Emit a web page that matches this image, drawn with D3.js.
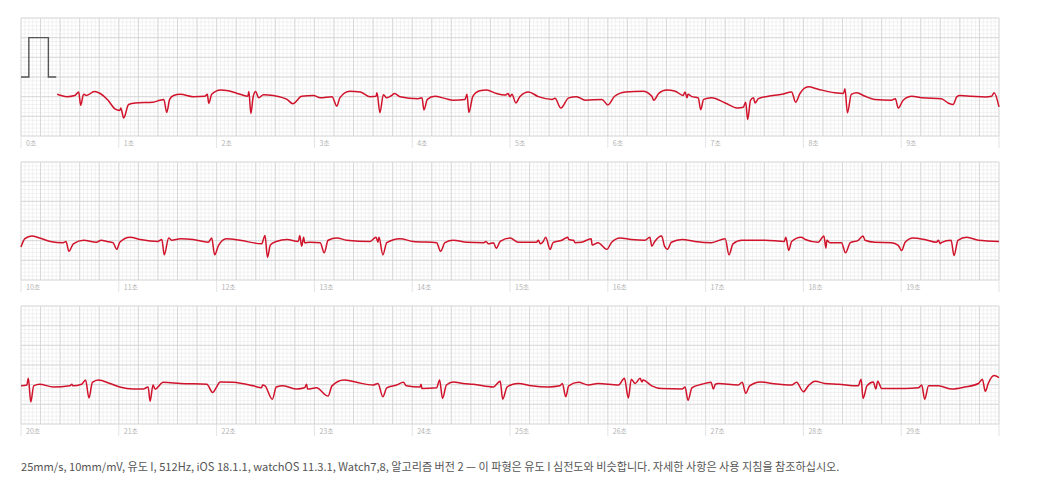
<!DOCTYPE html>
<html>
<head>
<meta charset="utf-8">
<script src="https://cdn.jsdelivr.net/npm/d3@7"></script>
<style>
  body { margin: 0; background: #fff; }
  svg { display: block; }
</style>
</head>
<body>
<div id="chart"></div>
<script>
const width = 1040, height = 481;

// ECG lead I, 25mm/s, 10mm/mV -- [seconds, mV]
const strip1 = [[0.37,-0.44],[0.47,-0.50],[0.55,-0.47],[0.59,-0.38],[0.61,-0.72],[0.64,-0.44],[0.67,-0.47],[0.75,-0.37],[0.81,-0.42],[0.89,-0.59],[0.96,-0.81],[1.01,-0.85],[1.02,-0.79],[1.05,-1.04],[1.10,-0.70],[1.17,-0.66],[1.35,-0.64],[1.42,-0.59],[1.46,-0.57],[1.49,-0.90],[1.52,-0.57],[1.56,-0.47],[1.63,-0.44],[1.76,-0.50],[1.88,-0.49],[1.905,-0.44],[1.92,-0.67],[1.95,-0.44],[2.04,-0.33],[2.12,-0.35],[2.24,-0.44],[2.32,-0.49],[2.33,-0.37],[2.35,-0.93],[2.375,-0.49],[2.40,-0.37],[2.43,-0.53],[2.48,-0.45],[2.58,-0.47],[2.72,-0.57],[2.78,-0.68],[2.87,-0.49],[2.99,-0.47],[3.06,-0.53],[3.18,-0.50],[3.23,-0.74],[3.26,-0.53],[3.36,-0.36],[3.47,-0.38],[3.57,-0.50],[3.63,-0.49],[3.64,-0.40],[3.67,-0.91],[3.705,-0.45],[3.74,-0.53],[3.79,-0.47],[3.82,-0.42],[3.875,-0.50],[4.06,-0.55],[4.10,-0.53],[4.12,-0.84],[4.155,-0.57],[4.23,-0.49],[4.34,-0.55],[4.42,-0.59],[4.54,-0.57],[4.56,-0.44],[4.58,-0.90],[4.62,-0.49],[4.69,-0.35],[4.76,-0.33],[4.86,-0.42],[4.95,-0.46],[4.98,-0.42],[5.00,-0.50],[5.02,-0.44],[5.06,-0.66],[5.10,-0.50],[5.19,-0.38],[5.29,-0.50],[5.43,-0.57],[5.46,-0.54],[5.52,-0.79],[5.60,-0.53],[5.68,-0.50],[5.77,-0.59],[5.94,-0.57],[6.00,-0.71],[6.07,-0.49],[6.18,-0.38],[6.36,-0.36],[6.45,-0.49],[6.47,-0.59],[6.52,-0.42],[6.60,-0.33],[6.69,-0.36],[6.77,-0.47],[6.79,-0.38],[6.81,-0.53],[6.82,-0.44],[6.86,-0.50],[6.925,-0.53],[6.95,-0.83],[6.98,-0.57],[7.06,-0.53],[7.20,-0.66],[7.33,-0.79],[7.385,-0.77],[7.41,-0.64],[7.43,-1.08],[7.46,-0.59],[7.49,-0.53],[7.505,-0.66],[7.54,-0.55],[7.64,-0.49],[7.78,-0.44],[7.88,-0.38],[7.92,-0.64],[7.965,-0.42],[8.05,-0.25],[8.15,-0.31],[8.32,-0.40],[8.41,-0.42],[8.425,-0.30],[8.45,-0.91],[8.49,-0.44],[8.545,-0.40],[8.63,-0.49],[8.73,-0.57],[8.90,-0.59],[8.94,-0.55],[8.97,-0.79],[9.02,-0.59],[9.11,-0.49],[9.21,-0.53],[9.41,-0.55],[9.48,-0.66],[9.53,-0.70],[9.57,-0.50],[9.60,-0.47],[9.72,-0.49],[9.86,-0.51],[9.925,-0.49],[9.95,-0.40],[10.0,-0.76]];

const strip2 = [[10.0,-0.66],[10.04,-0.45],[10.11,-0.38],[10.19,-0.43],[10.30,-0.52],[10.43,-0.55],[10.46,-0.52],[10.49,-0.77],[10.535,-0.58],[10.64,-0.49],[10.77,-0.54],[10.82,-0.49],[10.88,-0.52],[10.94,-0.55],[10.98,-0.72],[11.01,-0.54],[11.115,-0.41],[11.22,-0.47],[11.40,-0.52],[11.44,-0.47],[11.465,-0.86],[11.51,-0.43],[11.54,-0.49],[11.63,-0.45],[11.76,-0.47],[11.915,-0.54],[11.95,-0.43],[11.98,-0.86],[12.02,-0.62],[12.10,-0.45],[12.24,-0.49],[12.46,-0.58],[12.495,-0.37],[12.52,-0.92],[12.55,-0.61],[12.61,-0.52],[12.72,-0.47],[12.835,-0.52],[12.85,-0.37],[12.87,-0.64],[12.89,-0.41],[12.90,-0.55],[12.955,-0.54],[13.06,-0.55],[13.10,-0.81],[13.14,-0.49],[13.23,-0.43],[13.33,-0.49],[13.57,-0.52],[13.63,-0.41],[13.65,-0.54],[13.66,-0.41],[13.70,-0.86],[13.74,-0.55],[13.875,-0.45],[14.01,-0.52],[14.25,-0.55],[14.29,-0.77],[14.335,-0.55],[14.42,-0.49],[14.56,-0.54],[14.73,-0.55],[14.755,-0.52],[14.78,-0.58],[14.83,-0.55],[14.86,-0.69],[14.90,-0.52],[15.00,-0.43],[15.085,-0.54],[15.27,-0.54],[15.29,-0.49],[15.31,-0.58],[15.34,-0.52],[15.365,-0.41],[15.41,-0.72],[15.44,-0.55],[15.53,-0.49],[15.59,-0.41],[15.60,-0.47],[15.65,-0.49],[15.665,-0.55],[15.73,-0.54],[15.83,-0.45],[15.84,-0.61],[15.90,-0.55],[15.99,-0.72],[16.04,-0.54],[16.125,-0.43],[16.24,-0.47],[16.38,-0.49],[16.43,-0.41],[16.45,-0.64],[16.48,-0.52],[16.55,-0.38],[16.58,-0.64],[16.61,-0.72],[16.65,-0.54],[16.76,-0.47],[16.89,-0.52],[17.06,-0.55],[17.20,-0.45],[17.24,-0.86],[17.28,-0.58],[17.37,-0.49],[17.61,-0.49],[17.805,-0.52],[17.82,-0.41],[17.85,-0.75],[17.88,-0.52],[17.975,-0.41],[18.02,-0.47],[18.15,-0.54],[18.21,-0.38],[18.23,-0.69],[18.24,-0.49],[18.27,-0.55],[18.39,-0.55],[18.43,-0.81],[18.48,-0.55],[18.56,-0.49],[18.61,-0.38],[18.63,-0.49],[18.73,-0.54],[18.90,-0.55],[18.97,-0.62],[19.005,-0.75],[19.04,-0.54],[19.12,-0.43],[19.24,-0.47],[19.36,-0.54],[19.38,-0.49],[19.40,-0.58],[19.41,-0.55],[19.51,-0.49],[19.54,-0.88],[19.58,-0.49],[19.67,-0.41],[19.79,-0.49],[20.0,-0.52]];

const strip3 = [[20.0,-0.53],[20.06,-0.51],[20.075,-0.34],[20.10,-0.94],[20.13,-0.53],[20.19,-0.49],[20.33,-0.56],[20.50,-0.53],[20.52,-0.49],[20.53,-0.53],[20.62,-0.49],[20.66,-0.38],[20.695,-0.84],[20.73,-0.44],[20.79,-0.38],[20.91,-0.47],[21.01,-0.56],[21.15,-0.61],[21.25,-0.61],[21.30,-0.56],[21.32,-0.92],[21.35,-0.51],[21.37,-0.61],[21.455,-0.44],[21.63,-0.47],[21.90,-0.49],[21.96,-0.70],[22.00,-0.56],[22.035,-0.43],[22.17,-0.44],[22.375,-0.53],[22.46,-0.58],[22.47,-0.51],[22.495,-0.53],[22.57,-0.87],[22.61,-0.56],[22.68,-0.53],[22.82,-0.61],[22.90,-0.58],[22.92,-0.49],[22.93,-0.61],[23.02,-0.58],[23.14,-0.79],[23.18,-0.53],[23.30,-0.38],[23.43,-0.44],[23.60,-0.51],[23.65,-0.47],[23.70,-0.81],[23.74,-0.58],[23.84,-0.51],[23.91,-0.44],[23.94,-0.53],[24.08,-0.56],[24.09,-0.49],[24.10,-0.60],[24.25,-0.58],[24.28,-0.38],[24.31,-0.85],[24.35,-0.51],[24.42,-0.43],[24.52,-0.47],[24.625,-0.49],[24.83,-0.56],[24.90,-0.41],[24.925,-0.87],[24.97,-0.56],[25.03,-0.49],[25.085,-0.47],[25.22,-0.53],[25.39,-0.56],[25.51,-0.53],[25.535,-0.47],[25.57,-0.81],[25.60,-0.53],[25.70,-0.44],[25.80,-0.51],[25.90,-0.47],[26.11,-0.51],[26.17,-0.34],[26.21,-0.84],[26.24,-0.36],[26.28,-0.47],[26.33,-0.34],[26.35,-0.43],[26.36,-0.38],[26.45,-0.53],[26.55,-0.60],[26.76,-0.61],[26.79,-0.56],[26.82,-0.90],[26.86,-0.58],[26.96,-0.49],[27.055,-0.44],[27.08,-0.61],[27.10,-0.49],[27.13,-0.47],[27.33,-0.51],[27.375,-0.44],[27.41,-0.72],[27.45,-0.53],[27.56,-0.43],[27.68,-0.47],[27.88,-0.51],[27.93,-0.44],[28.00,-0.68],[28.05,-0.53],[28.12,-0.41],[28.22,-0.47],[28.36,-0.49],[28.56,-0.53],[28.59,-0.36],[28.61,-0.85],[28.65,-0.53],[28.715,-0.43],[28.74,-0.61],[28.76,-0.41],[28.80,-0.60],[29.04,-0.60],[29.175,-0.58],[29.21,-0.51],[29.24,-0.87],[29.28,-0.53],[29.38,-0.53],[29.52,-0.61],[29.65,-0.56],[29.79,-0.47],[29.83,-0.36],[29.86,-0.67],[29.89,-0.47],[29.95,-0.27],[30.0,-0.32]];

const strips = [strip1, strip2, strip3];
const stripStarts = [0, 10, 20];

// 1 mV calibration pulse at the start of the first strip
const calibration = [[0,0],[0.08,0],[0.08,1],[0.28,1],[0.28,0],[0.36,0]];

const secondLabels = d3.range(0, 30).map(s => s + "초");

const footer = "25mm/s, 10mm/mV, 유도 I, 512Hz, iOS 18.1.1, watchOS 11.3.1, Watch7,8, 알고리즘 버전 2 — 이 파형은 유도 I 심전도와 비슷합니다. 자세한 사항은 사용 지침을 참조하십시오.";

const left = 21, stripW = 978, stripH = 118, firstTop = 18, gap = 144;

const svg = d3.select("#chart").append("svg")
    .attr("width", width)
    .attr("height", height);

strips.forEach(function (data, i) {
    const t0 = stripStarts[i];
    const top = firstTop + i * gap;

    const x = d3.scaleLinear().domain([t0, t0 + 10]).range([left, left + stripW]);
    const y = d3.scaleLinear().domain([-1.5, 1.5]).range([top + stripH, top]);

    const g = svg.append("g");

    // small squares: 0.04 s x 0.1 mV
    const minorT = d3.range(0, 251).map(k => t0 + k * 0.04);
    const minorV = d3.range(0, 31).map(k => -1.5 + k * 0.1);
    // big squares: 0.2 s x 0.5 mV
    const majorT = d3.range(0, 51).map(k => t0 + k * 0.2);
    const majorV = d3.range(0, 7).map(k => -1.5 + k * 0.5);

    g.selectAll(".mx").data(minorT).enter().append("line")
        .attr("x1", d => x(d)).attr("x2", d => x(d))
        .attr("y1", top).attr("y2", top + stripH)
        .attr("stroke", "#eaeaea").attr("stroke-width", 0.6);
    g.selectAll(".my").data(minorV).enter().append("line")
        .attr("x1", left).attr("x2", left + stripW)
        .attr("y1", d => y(d)).attr("y2", d => y(d))
        .attr("stroke", "#eaeaea").attr("stroke-width", 0.6);
    g.selectAll(".Mx").data(majorT).enter().append("line")
        .attr("x1", d => x(d)).attr("x2", d => x(d))
        .attr("y1", top).attr("y2", top + stripH)
        .attr("stroke", "#d2d2d2").attr("stroke-width", 0.8);
    g.selectAll(".My").data(majorV).enter().append("line")
        .attr("x1", left).attr("x2", left + stripW)
        .attr("y1", d => y(d)).attr("y2", d => y(d))
        .attr("stroke", "#d2d2d2").attr("stroke-width", 0.8);

    // second ticks + labels under the strip
    const secs = d3.range(0, 11).map(k => t0 + k);
    g.selectAll(".tick").data(secs).enter().append("line")
        .attr("x1", d => x(d)).attr("x2", d => x(d))
        .attr("y1", top + stripH).attr("y2", top + stripH + 12)
        .attr("stroke", "#dcdcdc").attr("stroke-width", 0.8);
    g.selectAll(".lab").data(secs.slice(0, 10)).enter().append("text")
        .attr("x", d => x(d) + 5)
        .attr("y", top + stripH + 10)
        .attr("font-family", "'Noto Sans CJK KR', 'Noto Sans', sans-serif")
        .attr("font-size", 7)
        .attr("fill", "#b4b4b4")
        .text(d => secondLabels[d]);

    if (i === 0) {
        g.append("path")
            .datum(calibration)
            .attr("d", d3.line().x(d => x(d[0])).y(d => y(d[1])))
            .attr("fill", "none")
            .attr("stroke", "#555")
            .attr("stroke-width", 1.4);
    }

    g.append("path")
        .datum(data)
        .attr("d", d3.line().curve(d3.curveMonotoneX).x(d => x(d[0])).y(d => y(d[1])))
        .attr("fill", "none")
        .attr("stroke", "#d0132b")
        .attr("stroke-width", 1.5)
        .attr("stroke-linejoin", "round");
});

svg.append("text")
    .attr("x", left)
    .attr("y", 471)
    .attr("font-family", "'Noto Sans CJK KR', 'Noto Sans', sans-serif")
    .attr("font-size", 11.1)
    .attr("fill", "#555")
    .text(footer);
</script>
</body>
</html>
